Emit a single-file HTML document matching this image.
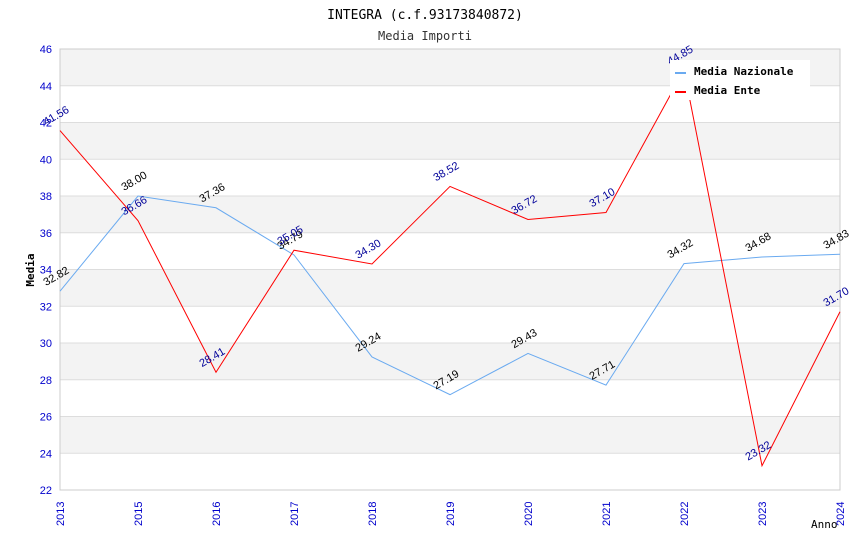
<!DOCTYPE html>
<html><head><meta charset="utf-8"><style>
body{margin:0;background:#fff;width:850px;height:550px;overflow:hidden}
svg{display:block}
</style></head><body>
<svg id="chart" width="850" height="550" xmlns="http://www.w3.org/2000/svg">
<text x="425" y="19" text-anchor="middle" font-family="DejaVu Sans Mono, Liberation Mono, monospace" font-size="13" fill="#000">INTEGRA (c.f.93173840872)</text>
<text x="425" y="40" text-anchor="middle" font-family="DejaVu Sans Mono, Liberation Mono, monospace" font-size="12" fill="#333">Media Importi</text>
<g id="bands"></g><g id="grid"></g><g id="axes"></g><g id="series"></g><g id="labels"></g>
<text transform="translate(34,270) rotate(-90)" text-anchor="middle" font-family="DejaVu Sans Mono, monospace" font-size="11" font-weight="bold">Media</text>
<text x="811" y="528" font-family="DejaVu Sans Mono, monospace" font-size="11">Anno</text>
<g>
<rect x="670" y="60" width="140" height="40" fill="#fff"/>
<line x1="675" y1="73" x2="686" y2="73" stroke="#6aaaf0" stroke-width="2"/>
<text x="694" y="75" font-family="DejaVu Sans Mono, monospace" font-size="11" font-weight="bold">Media Nazionale</text>
<line x1="675" y1="92" x2="686" y2="92" stroke="#ff0000" stroke-width="2"/>
<text x="694" y="94" font-family="DejaVu Sans Mono, monospace" font-size="11" font-weight="bold">Media Ente</text>
</g>
</svg>
<script>
const categories=["2013","2015","2016","2017","2018","2019","2020","2021","2022","2023","2024"];
const nazionale=[32.82,38.00,37.36,34.79,29.24,27.19,29.43,27.71,34.32,34.68,34.83];
const ente=[41.56,36.66,28.41,35.05,34.30,38.52,36.72,37.10,44.85,23.32,31.70];
const yTicks=[22,24,26,28,30,32,34,36,38,40,42,44,46];
const X0=60,X1=840,Y0=490,Y1=49,YMIN=22,YMAX=46;
const NS="http://www.w3.org/2000/svg";
function x(i){return X0+i*(X1-X0)/(categories.length-1);}
function y(v){return Y0-(v-YMIN)*(Y0-Y1)/(YMAX-YMIN);}
function mk(t,a,p){const e=document.createElementNS(NS,t);for(const k in a)e.setAttribute(k,a[k]);document.getElementById(p).appendChild(e);return e;}
for(let k=0;k<yTicks.length-1;k++){
 if(k%2===1){const r=mk('rect',{x:X0,y:y(yTicks[k+1]),width:X1-X0,height:y(yTicks[k])-y(yTicks[k+1]),fill:'#f3f3f3'},'bands');
 
 }
}
yTicks.forEach(v=>{
 const l=mk('line',{x1:X0,x2:X1,y1:y(v),y2:y(v),stroke:'#dddddd'},'grid');
 
 
 const t=mk('text',{x:X0-8,y:y(v)+4,'text-anchor':'end','font-family':'Liberation Sans, sans-serif','font-size':'11',fill:'#0000cc'},'axes');
 t.textContent=v;
 
 
});
mk('rect',{x:X0,y:Y1,width:X1-X0,height:Y0-Y1,fill:'none',stroke:'#cccccc'},'axes');
categories.forEach((c,i)=>{
 const t=mk('text',{transform:`translate(${x(i)+4},${Y0+36}) rotate(-90)`,'font-family':'Liberation Sans, sans-serif','font-size':'11',fill:'#0000cc'},'axes');
 t.textContent=c;
 
 
});
function series(vals,color,lc,name){
 const p=mk('polyline',{points:vals.map((v,i)=>x(i)+','+y(v)).join(' '),fill:'none',stroke:color,'stroke-width':1},'series');
 
 
 vals.forEach((v,i)=>{
  const t=mk('text',{transform:`translate(${x(i)-14},${y(v)-5}) rotate(-30)`,'font-family':'Liberation Sans, sans-serif','font-size':'11',fill:lc},'labels');
  t.textContent=v.toFixed(2);
  
  
 });
}
series(nazionale,'#6aaaf0','#000','line-media-nazionale');
series(ente,'#ff0000','#000099','line-media-ente');
</script>
</body></html>
